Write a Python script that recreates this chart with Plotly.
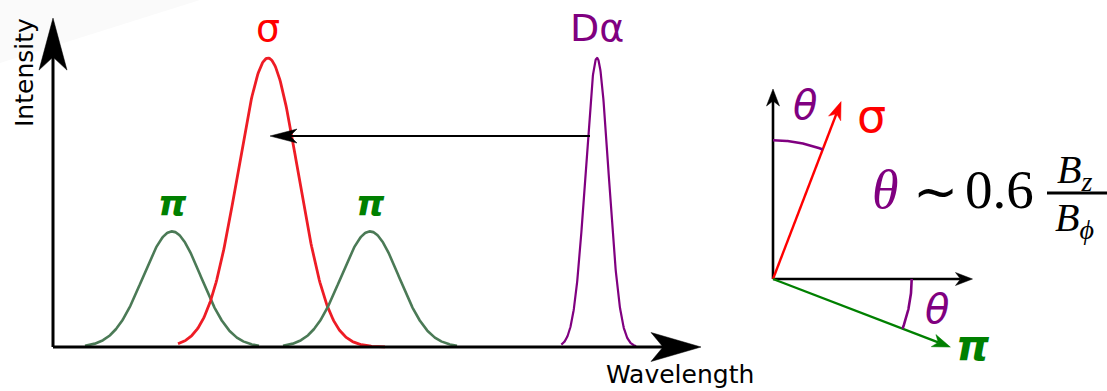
import numpy as np
import plotly.graph_objects as go

# ---------------- data ----------------
# spectrum panel (wavelength in arbitrary units, intensity normalised)
peak_labels = ["π", "σ", "π", "Dα"]
peak_centers = [2.38, 4.30, 6.34, 10.88]
peak_heights = [0.40, 1.00, 0.40, 1.00]
peak_widths = [0.58, 0.60, 0.58, 0.23]          # gaussian sigma
peak_span_left = [3.0, 3.0, 3.0, 3.1]            # drawn extent, in sigmas
peak_span_right = [3.0, 3.9, 3.0, 3.4]
wavelength_axis_end = 12.96
intensity_axis_end = 1.138
shift_from = 10.74                                # Dα -> σ shift arrow
shift_to = 4.34
shift_level = 0.73

# polarisation panel
theta_deg = 21.0
vector_len = 1.0
vertical_axis_len = 1.0
horizontal_axis_len = 1.05
arc_radius = 0.73

# ---------------- styles ----------------
curve_colors = ["#4b7a56", "#ee1c25", "#4b7a56", "#800080"]
curve_widths = [2.6, 2.8, 2.6, 2.2]
label_colors = ["#008000", "#ff0000", "#008000", "#800080"]
W, H = 1107, 391
# left panel pixel mapping: px = X0 + SX*x ; py = Y0 - SY*y
X0, SX, Y0, SY = 53.0, 50.0, 347.0, 289.0
# right panel pixel mapping
U0, SU, V0, SV = 773.0, 190.0, 279.0, 190.0

fig = go.Figure()


def arrow_head(tip, direction, L, Wd, N, sx, sy):
    dx, dy = direction[0] * sx, direction[1] * sy
    n = np.hypot(dx, dy)
    ux, uy = dx / n, dy / n
    nx, ny = -uy, ux
    pts = [(0, 0), (-L * ux + Wd * nx, -L * uy + Wd * ny),
           (-(L - N) * ux, -(L - N) * uy),
           (-L * ux - Wd * nx, -L * uy - Wd * ny), (0, 0)]
    xs = [tip[0] + a / sx for a, b in pts]
    ys = [tip[1] + b / sy for a, b in pts]
    base = (tip[0] - (L - N) * ux / sx, tip[1] - (L - N) * uy / sy)
    return xs, ys, base


def arrow(start, tip, color, lw, L, Wd, N, sx, sy, xa, ya):
    d = (tip[0] - start[0], tip[1] - start[1])
    hx, hy, base = arrow_head(tip, d, L, Wd, N, sx, sy)
    fig.add_trace(go.Scatter(x=[start[0], base[0]], y=[start[1], base[1]], mode="lines",
                             line=dict(color=color, width=lw), xaxis=xa, yaxis=ya,
                             hoverinfo="skip", showlegend=False))
    fig.add_trace(go.Scatter(x=hx, y=hy, mode="lines", fill="toself", fillcolor=color,
                             line=dict(color=color, width=0.5), xaxis=xa, yaxis=ya,
                             hoverinfo="skip", showlegend=False))


# ---- spectrum curves ----
for i in range(len(peak_centers)):
    c, h, w = peak_centers[i], peak_heights[i], peak_widths[i]
    x = np.linspace(c - peak_span_left[i] * w, c + peak_span_right[i] * w, 300)
    y = h * np.exp(-0.5 * ((x - c) / w) ** 2)
    fig.add_trace(go.Scatter(x=x, y=y, mode="lines",
                             line=dict(color=curve_colors[i], width=curve_widths[i]),
                             hoverinfo="skip", showlegend=False))

# ---- spectrum axes ----
arrow((0, 0), (0, intensity_axis_end), "black", 3, 52, 14, 13, SX, SY, "x", "y")
arrow((0, 0), (wavelength_axis_end, 0), "black", 3, 50, 14.5, 12, SX, SY, "x", "y")
arrow((shift_from, shift_level), (shift_to, shift_level), "black", 2, 27, 7, 7, SX, SY, "x", "y")

# ---- polarisation diagram ----
th = np.radians(theta_deg)
arrow((0, 0), (0, vertical_axis_len), "black", 2.6, 17, 6.5, 5, SU, SV, "x2", "y2")
arrow((0, 0), (horizontal_axis_len, 0), "black", 2.6, 17, 6.5, 5, SU, SV, "x2", "y2")
arrow((0, 0), (vector_len * np.sin(th), vector_len * np.cos(th)), "#ff0000", 2.4, 18, 6.5, 5, SU, SV, "x2", "y2")
arrow((0, 0), (vector_len * np.cos(th), -vector_len * np.sin(th)), "#008000", 2.4, 18, 6.5, 5, SU, SV, "x2", "y2")

a1 = np.linspace(np.pi / 2, np.pi / 2 - th, 60)
fig.add_trace(go.Scatter(x=arc_radius * np.cos(a1), y=arc_radius * np.sin(a1), mode="lines",
                         line=dict(color="#800080", width=2.6), xaxis="x2", yaxis="y2",
                         hoverinfo="skip", showlegend=False))
a2 = np.linspace(0, -th, 60)
fig.add_trace(go.Scatter(x=arc_radius * np.cos(a2), y=arc_radius * np.sin(a2), mode="lines",
                         line=dict(color="#800080", width=2.6), xaxis="x2", yaxis="y2",
                         hoverinfo="skip", showlegend=False))

annotations = []
# peak labels
label_fonts = [
    dict(family="DejaVu Sans", size=36, color=label_colors[0]),
    dict(family="DejaVu Sans", size=38, color=label_colors[1]),
    dict(family="DejaVu Sans", size=36, color=label_colors[2]),
    dict(family="DejaVu Sans", size=38, color=label_colors[3]),
]
label_shift = [28, 30, 28, 30]
for i in range(len(peak_centers)):
    txt = peak_labels[i]
    if txt == "π":
        txt = "<b><i>π</i></b>"
    annotations.append(dict(x=peak_centers[i], y=peak_heights[i], xref="x", yref="y",
                            text=txt, showarrow=False, font=label_fonts[i],
                            xanchor="center", yanchor="middle", yshift=label_shift[i]))


def ptext(px, py, text, font, **kw):
    d = dict(x=px / W, y=1 - py / H, xref="paper", yref="paper", text=text,
             showarrow=False, xanchor="center", yanchor="middle", font=font)
    d.update(kw)
    annotations.append(d)


ptext(24, 73, "Intensity", dict(family="DejaVu Sans", size=25, color="black"), textangle=-90)
ptext(680, 374, "Wavelength", dict(family="DejaVu Sans", size=25, color="black"))

# polarisation labels
sig_tip = (vector_len * np.sin(th), vector_len * np.cos(th))
pi_tip = (vector_len * np.cos(th), -vector_len * np.sin(th))
annotations.append(dict(x=sig_tip[0], y=sig_tip[1], xref="x2", yref="y2", text="σ",
                        showarrow=False, xanchor="left", yanchor="middle", xshift=14, yshift=-14,
                        font=dict(family="DejaVu Sans", size=46, color="#ff0000")))
annotations.append(dict(x=pi_tip[0], y=pi_tip[1], xref="x2", yref="y2", text="<b><i>π</i></b>",
                        showarrow=False, xanchor="left", yanchor="middle", xshift=4, yshift=2,
                        font=dict(family="DejaVu Sans", size=42, color="#008000")))
mid1 = np.pi / 2 - th / 2
annotations.append(dict(x=0.93 * np.cos(mid1), y=0.93 * np.sin(mid1), xref="x2", yref="y2",
                        text="<i>θ</i>", showarrow=False, xanchor="center", yanchor="middle",
                        font=dict(family="DejaVu Sans", size=40, color="#800080")))
mid2 = -th / 2
annotations.append(dict(x=0.88 * np.cos(mid2), y=0.88 * np.sin(mid2), xref="x2", yref="y2",
                        text="<i>θ</i>", showarrow=False, xanchor="center", yanchor="middle",
                        font=dict(family="DejaVu Sans", size=40, color="#800080")))

# formula  θ ~ 0.6 Bz/Bϕ
serif = "Liberation Serif"
ptext(885, 190, "<i>θ</i>", dict(family=serif, size=54, color="#800080"))
ptext(935, 192, "∼", dict(family=serif, size=54, color="black"))
ptext(999, 190, "0.6", dict(family=serif, size=55, color="black"))
ptext(1074, 172, "<i>B<sub>z</sub></i>", dict(family=serif, size=40, color="black"))
ptext(1074, 220, "<i>B<sub>ϕ</sub></i>", dict(family=serif, size=40, color="black"))

shapes = [
    dict(type="path", xref="paper", yref="paper", layer="below",
         path=f"M 0 1 L {200 / W} 1 L 0 {1 - 63 / H} Z",
         fillcolor="#fafafa", line=dict(width=0)),
    dict(type="line", xref="paper", yref="paper", x0=1047 / W, x1=1107 / W,
         y0=1 - 193 / H, y1=1 - 193 / H, line=dict(color="black", width=3)),
]

fig.update_layout(
    width=W, height=H, margin=dict(l=0, r=0, t=0, b=0),
    paper_bgcolor="white", plot_bgcolor="white",
    xaxis=dict(range=[-X0 / SX, (W - X0) / SX], visible=False, domain=[0, 1], fixedrange=True),
    yaxis=dict(range=[-(H - Y0) / SY, Y0 / SY], visible=False, domain=[0, 1], fixedrange=True),
    xaxis2=dict(range=[-U0 / SU, (W - U0) / SU], visible=False, overlaying="x", fixedrange=True),
    yaxis2=dict(range=[-(H - V0) / SV, V0 / SV], visible=False, overlaying="y", fixedrange=True),
    annotations=annotations, shapes=shapes, showlegend=False,
)

fig.write_html("out.html", config=dict(displayModeBar=False),
               post_script="document.body.style.margin='0';document.body.style.padding='0';"
                           "document.body.style.overflow='hidden';")
